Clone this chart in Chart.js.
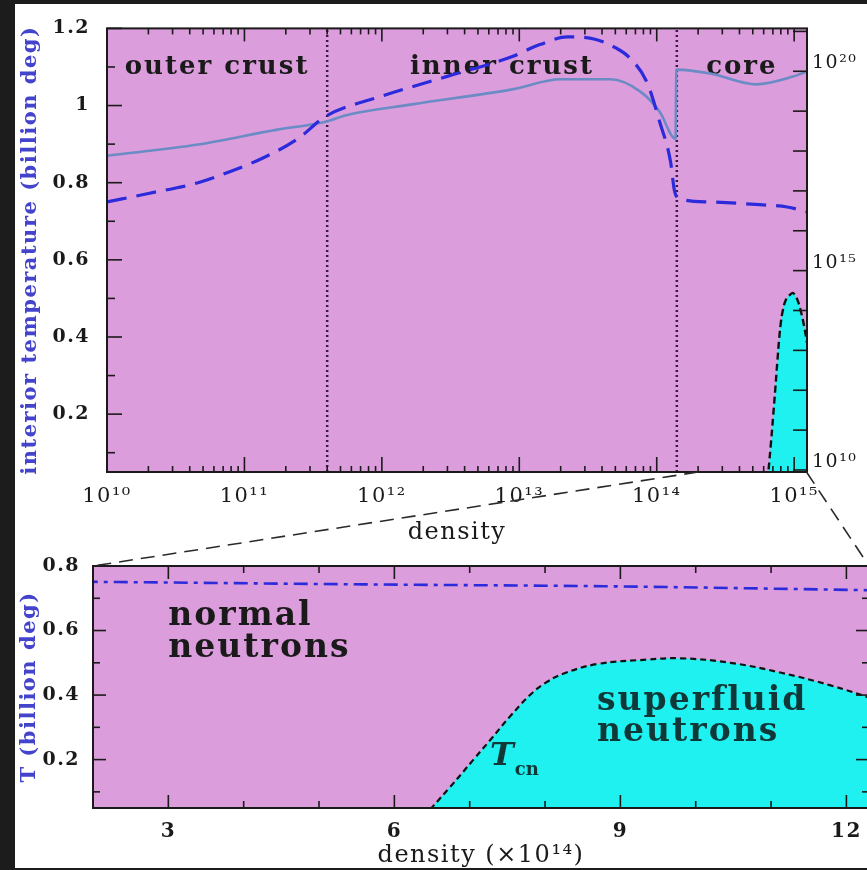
<!DOCTYPE html>
<html>
<head>
<meta charset="utf-8">
<script src="https://cdn.jsdelivr.net/npm/chart.js@4.4.1/dist/chart.umd.min.js"></script>
<style>
  body { margin: 0; background: #fff; }
  #wrap { position: relative; width: 867px; height: 870px; overflow: hidden; background: #fff; }
  #wrap canvas { position: absolute; left: 0; }
  #topChart { top: 0; }
  #botChart { top: 470px; }
  .band { position: absolute; background: #1c1c1c; }
</style>
</head>
<body>
<div id="wrap">
  <canvas id="topChart" width="867" height="560"></canvas>
  <canvas id="botChart" width="880" height="400"></canvas>
  <div class="band" style="left:0;top:0;width:15px;height:870px"></div>
  <div class="band" style="left:0;top:0;width:867px;height:4px"></div>
  <div class="band" style="left:0;top:868px;width:867px;height:2px"></div>
</div>
<script>
// interior temperature (billion deg) vs density (g/cm^3), dashed curve
const tempDensity = [1e10, 2e10, 4.6e10, 7.9e10, 1.4e11, 2.45e11, 3.9e11, 9.5e11, 2.95e12, 8.9e12,
  1.41e13, 2.24e13, 3.55e13, 5e13, 6.3e13, 8.5e13, 1.05e14, 1.26e14, 1.35e14, 1.48e14,
  2.45e14, 5.6e14, 8.9e14, 1.23e15];
const tempValues = [0.75, 0.772, 0.80, 0.829, 0.866, 0.914, 0.972, 1.022, 1.075, 1.127,
  1.158, 1.178, 1.172, 1.15, 1.125, 1.06, 0.958, 0.855, 0.777, 0.758,
  0.75, 0.743, 0.737, 0.725];

// solid curve
const solidDensity = [1e10, 4.6e10, 1.7e11, 3.9e11, 5.5e11, 1.66e12, 8.9e12, 2e13, 4.6e13, 7.6e13,
  1.05e14, 1.37e14, 1.39e14, 2.45e14, 5.3e14, 9.8e14, 1.23e15];
const solidValues = [0.87, 0.899, 0.937, 0.958, 0.975, 1.003, 1.042, 1.068, 1.068, 1.036,
  0.984, 0.914, 1.093, 1.083, 1.055, 1.075, 1.088];

// neutron superfluid critical temperature, density in units of 10^14
const tcnDensity = [6.3, 6.74, 7.05, 7.27, 7.54, 7.80, 8.0, 8.24, 8.69, 9.36, 9.80, 10.46, 11.12, 11.79, 12.4];
const tcnValues = [0.0, 0.115, 0.2, 0.26, 0.335, 0.40, 0.437, 0.466, 0.496, 0.51, 0.514, 0.50, 0.47, 0.43, 0.385];

const layerNames = ['outer crust', 'inner crust', 'core'];
const layerEdges = [4e11, 1.4e14];

// axes
const densityPowers = [10, 11, 12, 13, 14, 15];
const rightPowers = [10, 15, 20];
const tempTicksTop = [0.2, 0.4, 0.6, 0.8, 1, 1.2];
const tempTicksBot = [0.2, 0.4, 0.6, 0.8];
const densityTicksBot = [3, 6, 9, 12];

const FONT = "'DejaVu Serif', serif";
const INK = '#1a1a1a';
const BLUE = '#2b2bdc';
const STEEL = '#6a8bc4';
const PLUM = '#dc9ddc';
const CYAN = '#1ff0f0';
const TITLE_BLUE = '#4343cc';

const SUP = '⁰¹²³⁴⁵⁶⁷⁸⁹';
const sup = n => String(n).split('').map(c => SUP[+c]).join('');
const pts = (xs, ys, k = 1) => xs.map((x, i) => ({ x: x * k, y: ys[i] }));

function inwardTicks(ctx, scale, a, side, bigLen, smallLen) {
  scale.ticks.forEach(t => {
    const p = scale.getPixelForValue(t.value);
    const len = t.big ? bigLen : smallLen;
    ctx.beginPath();
    if (side === 'bottom') { ctx.moveTo(p, a.bottom); ctx.lineTo(p, a.bottom - len); }
    else if (side === 'top') { ctx.moveTo(p, a.top); ctx.lineTo(p, a.top + len); }
    else if (side === 'left') { ctx.moveTo(a.left, p); ctx.lineTo(a.left + len, p); }
    else { ctx.moveTo(a.right, p); ctx.lineTo(a.right - len, p); }
    ctx.stroke();
  });
}

// plum background, inward ticks and frame
const panel = {
  id: 'panel',
  beforeDraw(chart) {
    chart.ctx.letterSpacing = '1.5px';
  },
  beforeDatasetsDraw(chart, args, o) {
    const { ctx, chartArea: a } = chart;
    ctx.save();
    ctx.fillStyle = PLUM;
    ctx.fillRect(a.left, a.top, a.width, a.height);
    ctx.restore();
    if (o.under) o.under(chart);
  },
  afterDatasetsDraw(chart, args, o) {
    const { ctx, chartArea: a } = chart;
    if (o.over) o.over(chart);
    ctx.save();
    ctx.strokeStyle = INK;
    ctx.lineWidth = 1.6;
    o.ticks.forEach(([id, side, big, small]) => inwardTicks(ctx, chart.scales[id], a, side, big, small));
    ctx.lineWidth = 2;
    ctx.strokeRect(a.left, a.top, a.width, a.height);
    ctx.restore();
  }
};

function linearTicks(step, bigEvery) {
  return s => {
    const out = [];
    for (let k = Math.ceil(s.min / step - 1e-9); k * step <= s.max + 1e-9; k++) {
      const v = +(k * step).toFixed(4);
      out.push({ value: v, big: k % bigEvery === 0 });
    }
    s.ticks = out;
  };
}

const baseTicks = (size, weight, padding) => ({
  autoSkip: false, maxRotation: 0, padding, color: INK,
  font: { family: FONT, size, weight }
});

// ---------- top panel ----------
const topChart = new Chart(document.getElementById('topChart'), {
  type: 'line',
  data: {
    datasets: [
      { data: pts(tempDensity, tempValues), borderColor: BLUE, borderWidth: 3.2, borderDash: [20, 10] },
      { data: pts(solidDensity, solidValues), borderColor: STEEL, borderWidth: 2.6 },
      ...layerEdges.map(e => ({
        data: [{ x: e, y: 0.05 }, { x: e, y: 1.2 }],
        borderColor: '#3a1a44', borderWidth: 2.5, borderDash: [2, 3],
        cubicInterpolationMode: 'default', tension: 0
      })),
      { data: pts(tcnDensity, tcnValues, 1e14), borderColor: '#111', borderWidth: 2.4, borderDash: [7, 4],
        fill: 'start', backgroundColor: CYAN, cubicInterpolationMode: 'default', tension: 0.4 }
    ]
  },
  options: {
    responsive: false, animation: false, events: [],
    layout: { padding: { left: 15, top: 27, right: 0, bottom: 0 } },
    elements: { point: { radius: 0 }, line: { cubicInterpolationMode: 'monotone' } },
    plugins: {
      legend: { display: false }, tooltip: { enabled: false },
      panel: {
        ticks: [['x', 'bottom', 15, 6], ['x', 'top', 13, 6], ['y', 'left', 15, 8], ['y2', 'right', 14, 14]],
        under(chart) {
          const { ctx } = chart, x = chart.scales.x, y = chart.scales.y;
          const bounds = [x.min, ...layerEdges, x.max];
          ctx.save();
          ctx.fillStyle = INK;
          ctx.font = `bold 26px ${FONT}`;
          ctx.letterSpacing = '2px';
          ctx.textAlign = 'center';
          ctx.textBaseline = 'middle';
          layerNames.forEach((name, i) => {
            const mid = Math.sqrt(bounds[i] * bounds[i + 1]);
            ctx.fillText(name, x.getPixelForValue(mid), y.getPixelForValue(1.1));
          });
          ctx.restore();
        }
      }
    },
    scales: {
      x: {
        type: 'logarithmic', min: 1e10, max: 1.24e15,
        grid: { display: false, drawTicks: false }, border: { display: false },
        afterBuildTicks(s) {
          const out = [];
          densityPowers.forEach(p => {
            for (let m = 1; m <= 9; m++) {
              const v = m * Math.pow(10, p);
              if (v >= s.min * 0.999 && v <= s.max) out.push({ value: v, big: m === 1 });
            }
          });
          s.ticks = out;
        },
        afterFit(s) { s.height = 88; },
        ticks: { ...baseTicks(21, 'normal', 12),
          callback: (v, i, t) => t[i].big ? '10' + sup(Math.round(Math.log10(v))) : '' },
        title: { display: true, text: 'density', color: INK, font: { family: FONT, size: 24 },
          padding: { top: 0, bottom: 13 } }
      },
      y: {
        min: 0.05, max: 1.2,
        grid: { display: false, drawTicks: false }, border: { display: false },
        afterBuildTicks: linearTicks(0.1, 2),
        afterFit(s) { s.width = 92; },
        ticks: { ...baseTicks(19, 'bold', 17),
          callback: v => tempTicksTop.some(t => Math.abs(t - v) < 1e-6) ? String(+v.toFixed(1)) : '' },
        title: { display: true, text: 'interior temperature (billion deg)', color: TITLE_BLUE,
          font: { family: FONT, size: 21, weight: 'bold' }, padding: { top: 3, bottom: 0 } }
      },
      y2: {
        type: 'logarithmic', position: 'right', min: 8.9e9, max: 1.19e21,
        grid: { display: false, drawTicks: false }, border: { display: false },
        afterBuildTicks(s) {
          const out = [];
          for (let p = 10; p <= 21; p++) {
            const v = Math.pow(10, p);
            if (v <= s.max) out.push({ value: v, big: true });
          }
          s.ticks = out;
        },
        afterFit(s) { s.width = 60; },
        ticks: { ...baseTicks(19, 'normal', 5), labelOffset: -8,
          callback: v => {
            const p = Math.round(Math.log10(v));
            return rightPowers.includes(p) ? '10' + sup(p) : '';
          } }
      }
    }
  },
  plugins: [panel]
});

// ---------- bottom panel (zoom on the core) ----------
const zoomLines = {
  id: 'zoomLines',
  afterDraw(chart) {
    const { ctx } = chart;
    const off = chart.canvas.offsetTop - topChart.canvas.offsetTop;
    const tx = topChart.scales.x, bx = chart.scales.x;
    const ty = topChart.chartArea.bottom - off, by = chart.chartArea.top;
    ctx.save();
    ctx.strokeStyle = '#2a2a2a';
    ctx.lineWidth = 1.6;
    ctx.setLineDash([14, 8]);
    [bx.min, bx.max].forEach(v => {
      ctx.beginPath();
      ctx.moveTo(tx.getPixelForValue(Math.min(v * 1e14, tx.max)), ty);
      ctx.lineTo(bx.getPixelForValue(v), by);
      ctx.stroke();
    });
    ctx.restore();
  }
};

new Chart(document.getElementById('botChart'), {
  type: 'line',
  data: {
    datasets: [
      { data: pts(tempDensity, tempValues, 1e-14), borderColor: BLUE, borderWidth: 2.6, borderDash: [14, 6, 4, 6] },
      { data: pts(tcnDensity, tcnValues), borderColor: '#111', borderWidth: 2.2, borderDash: [6, 4],
        fill: 'start', backgroundColor: CYAN, cubicInterpolationMode: 'default', tension: 0.4 }
    ]
  },
  options: {
    responsive: false, animation: false, events: [],
    layout: { padding: { left: 15, top: 96, right: 11, bottom: 0 } },
    elements: { point: { radius: 0 }, line: { cubicInterpolationMode: 'monotone' } },
    plugins: {
      legend: { display: false }, tooltip: { enabled: false },
      panel: {
        ticks: [['x', 'bottom', 13, 7], ['x', 'top', 13, 7], ['y', 'left', 13, 7], ['y', 'right', 13, 7]],
        over(chart) {
          const { ctx } = chart, x = chart.scales.x, y = chart.scales.y;
          ctx.save();
          ctx.fillStyle = INK;
          ctx.textBaseline = 'middle';
          ctx.font = `bold 33px ${FONT}`;
          ctx.letterSpacing = '2px';
          ctx.fillText('normal', x.getPixelForValue(3), y.getPixelForValue(0.645));
          ctx.fillText('neutrons', x.getPixelForValue(3), y.getPixelForValue(0.545));
          ctx.fillStyle = '#113838';
          ctx.fillText('superfluid', x.getPixelForValue(8.69), y.getPixelForValue(0.38));
          ctx.fillText('neutrons', x.getPixelForValue(8.69), y.getPixelForValue(0.283));
          const tx = x.getPixelForValue(7.27), ty = y.getPixelForValue(0.209);
          ctx.letterSpacing = '0px';
          ctx.font = `italic bold 32px ${FONT}`;
          ctx.fillText('T', tx, ty);
          const w = ctx.measureText('T').width;
          ctx.font = `bold 18px ${FONT}`;
          ctx.fillText('cn', tx + w + 1, ty + 14);
          ctx.restore();
        }
      }
    },
    scales: {
      x: {
        type: 'linear', min: 2, max: 12.3,
        grid: { display: false, drawTicks: false }, border: { display: false },
        afterBuildTicks: linearTicks(1, 3),
        afterFit(s) { s.height = 62; },
        ticks: { ...baseTicks(20, 'bold', 12),
          callback: v => densityTicksBot.includes(v) ? String(v) : '' },
        title: { display: true, text: 'density (×10¹⁴)', color: INK, font: { family: FONT, size: 24 },
          padding: { top: 0, bottom: 0 } }
      },
      y: {
        min: 0.05, max: 0.8,
        grid: { display: false, drawTicks: false }, border: { display: false },
        afterBuildTicks: linearTicks(0.1, 2),
        afterFit(s) { s.width = 78; },
        ticks: { ...baseTicks(19, 'bold', 13),
          callback: v => tempTicksBot.some(t => Math.abs(t - v) < 1e-6) ? String(+v.toFixed(1)) : '' },
        title: { display: true, text: 'T (billion deg)', color: TITLE_BLUE,
          font: { family: FONT, size: 21, weight: 'bold' }, padding: { top: 2, bottom: 0 } }
      }
    }
  },
  plugins: [panel, zoomLines]
});
</script>
</body>
</html>
